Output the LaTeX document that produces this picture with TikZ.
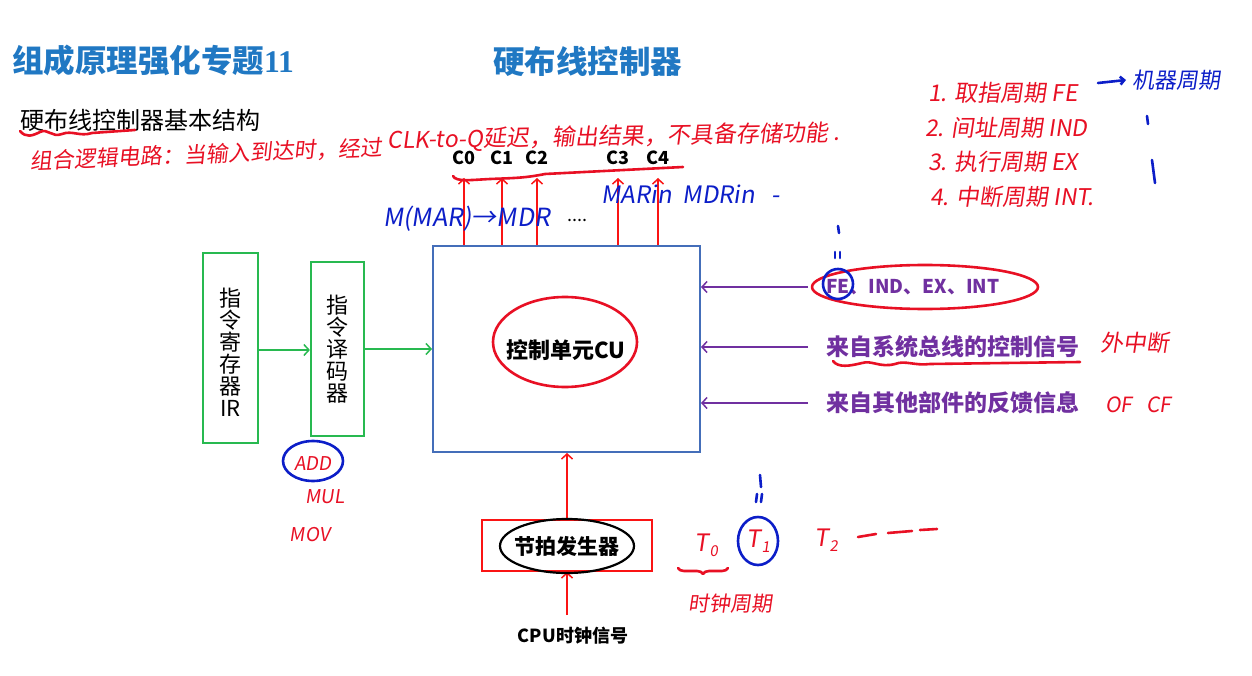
\documentclass[tikz,border=0pt]{standalone}
\usepackage{fontspec}
\setmainfont{Noto Sans CJK SC}
\newfontfamily\hand[FakeSlant=0.15]{Noto Sans CJK SC}
\newfontfamily\serifnum{Liberation Serif}
\usetikzlibrary{arrows.meta,decorations.pathmorphing,decorations.pathreplacing}

\definecolor{titleblue}{RGB}{32,120,195}
\definecolor{boxgreen}{RGB}{40,185,80}
\definecolor{cublue}{RGB}{68,110,185}
\definecolor{sigpurple}{RGB}{112,48,160}
\definecolor{wirered}{RGB}{250,20,20}
\definecolor{penred}{RGB}{232,16,36}
\definecolor{penblue}{RGB}{12,30,200}

\newcommand{\fs}[1]{\fontsize{#1}{#1}\selectfont}
\newcommand{\Tsub}[1]{T\kern1pt\raisebox{-5pt}{\fs{15}#1}}

\tikzset{
  greenbox/.style={draw=boxgreen, line width=2.2pt, inner sep=0pt},
  cubox/.style={draw=cublue, line width=2pt, inner sep=0pt},
  tickbox/.style={draw=wirered, line width=2pt, inner sep=0pt},
  garrow/.style={draw=boxgreen, line width=1.5pt, -{Straight Barb[length=5pt,width=11pt,line width=1.5pt]}},
  rarrow/.style={draw=wirered, line width=1.5pt, -{Straight Barb[length=5pt,width=11pt,line width=1.5pt]}},
  parrow/.style={draw=sigpurple, line width=1.5pt, -{Straight Barb[length=5pt,width=11pt,line width=1.5pt]}},
  redpen/.style={draw=penred, line width=2.6pt, line cap=round, line join=round},
  bluepen/.style={draw=penblue, line width=2.6pt, line cap=round, line join=round},
  redhand/.style={text=penred, font=\hand\fs{21}, inner sep=0pt},
  bluehand/.style={text=penblue, font=\hand\fs{21}, inner sep=0pt},
  clabel/.style={font=\bfseries\fs{18}, inner sep=0pt},
  siglabel/.style={text=sigpurple, font=\bfseries\fs{23}, anchor=west, inner sep=0pt},
}

\begin{document}
\begin{tikzpicture}[x=1pt,y=-1pt]
\useasboundingbox[fill=white] (0,0) rectangle (1252,676);

% ---- headings ----
\node[anchor=west, text=titleblue, font=\bfseries\fs{31.5}, inner sep=0pt] (t1) at (12,61) {组成原理强化专题\serifnum\bfseries 11};
\node[anchor=west, text=titleblue, font=\bfseries\fs{31.5}, inner sep=0pt] (t2) at (493,61) {硬布线控制器};
\node[anchor=west, font=\fs{24}, inner sep=0pt] (sub) at (20,120) {硬布线控制器基本结构};

% ---- main blocks ----
\node[greenbox, minimum width=55, minimum height=190] (ir) at (230.5,348) {};
\node[font=\fs{22}, align=center, inner sep=0pt] at (230.5,352)
  {\baselineskip=28pt 指\\令\\寄\\存\\器\\IR};
\node[greenbox, minimum width=53, minimum height=174] (dec) at (337.5,349) {};
\node[font=\fs{22}, align=center, inner sep=0pt] at (337.5,349)
  {\baselineskip=28pt 指\\令\\译\\码\\器};

\node[cubox, minimum width=267, minimum height=206] (cu) at (566.5,349) {};
\node[font=\bfseries\fs{22}, inner sep=0pt] (cutext) at (566,350) {控制单元CU};

\node[tickbox, minimum width=170, minimum height=51] (tick) at (567,545.5) {};
\node[font=\bfseries\fs{21}, inner sep=0pt] (ticktext) at (567,546) {节拍发生器};
\node[font=\bfseries\fs{18}, inner sep=0pt] (clk) at (573,636) {CPU时钟信号};
\coordinate (clkin) at (567,615);

% ---- control signal outputs ----
\node[clabel] (c0) at (464,158) {C0};
\node[clabel] (c1) at (502,158) {C1};
\node[clabel] (c2) at (537,158) {C2};
\node[clabel] (c3) at (618,158) {C3};
\node[clabel] (c4) at (658,158) {C4};
\foreach \c in {c0,c1,c2,c3,c4}{
  \coordinate (\c tip) at (\c |- 0,178);
  \draw[rarrow] (cu.north -| \c) -- (\c tip);
}

% ---- data path ----
\draw[garrow] (ir.east |- 0,350) -- (dec.west |- 0,350);
\draw[garrow] (dec.east |- 0,349) -- (cu.west |- 0,349);
\draw[rarrow] (tick.north) -- (tick.north |- cu.south);
\draw[rarrow] (clkin) -- (tick.south);

% ---- external inputs ----
\node[siglabel, font=\bfseries\fs{19}] (s1) at (826,287) {FE、IND、EX、INT};
\node[siglabel] (s2) at (826,347) {来自系统总线的控制信号};
\node[siglabel] (s3) at (826,403) {来自其他部件的反馈信息};
\foreach \s in {s1,s2,s3}{
  \draw[parrow] ([xshift=-18pt]\s.west) -- (cu.east |- \s.west);
}

% ---- pen notes ----
\draw[redpen] (20,131) .. controls (26,138) and (32,136) .. (40,132)
  .. controls (48,128) and (52,138) .. (62,134)
  .. controls (72,130) and (80,137) .. (92,133) -- (135,130);
\node[redhand, font=\hand\fs{22}, rotate=2.2, anchor=west] (n1a) at (30,161)
  {组合逻辑电路：当输入到达时，经过};
\node[redhand, font=\hand\fs{23}, rotate=1, anchor=west] (n1b) at (387,141)
  {CLK-to-Q延迟，输出结果，不具备存储功能 .};

\draw[redpen] (453,176) .. controls (456,182) and (470,180) .. (490,179)
  .. controls (515,178) and (525,178) .. (545,174) -- (683,167);

\node[bluehand, anchor=west, font=\hand\fs{25}] (n2) at (383,219) {M(MAR)→MDR};
\node[inner sep=0pt, font=\fs{18}] (dots) at (577,220) {....};
\node[bluehand, anchor=west, font=\hand\fs{24}] (n3) at (601,194) {MARin\ \ MDRin\ \ \ -};

\draw[redpen] (565,342) ellipse [x radius=72, y radius=45];
\draw[line width=2.2pt, line cap=round] (567,546) ellipse [x radius=67, y radius=27];

\draw[redpen] (925,287) ellipse [x radius=113, y radius=22];
\draw[bluepen] (838,284) circle [radius=15];
\draw[bluepen] (838,226) -- (839,233);
\draw[bluepen] (835,252) -- (835,258);
\draw[bluepen] (840,252) -- (840,258);

\draw[redpen] (833,361) .. controls (838,368) and (850,366) .. (862,363)
  .. controls (872,360) and (880,368) .. (895,364)
  .. controls (905,360) and (915,366) .. (930,364) -- (1080,362);
\node[redhand, anchor=west, font=\hand\fs{23}] (n4) at (1100,343) {外中断};
\node[redhand, anchor=west] (n5) at (1105,405) {OF\ \ \ CF};

\node[redhand, anchor=west, font=\hand\fs{23}] (l1) at (928,93) {1. 取指周期 FE};
\node[redhand, anchor=west, font=\hand\fs{23}] (l2) at (925,128) {2. 间址周期 IND};
\node[redhand, anchor=west, font=\hand\fs{23}] (l3) at (928,162) {3. 执行周期 EX};
\node[redhand, anchor=west, font=\hand\fs{23}] (l4) at (930,197) {4. 中断周期 INT.};
\node[bluehand, anchor=west, font=\hand\fs{22}] (mc) at (1132,80) {机器周期};
\draw[bluepen, -{Straight Barb[length=4pt,width=8pt]}] (1098,83) -- ([xshift=-6pt]mc.west);
\draw[bluepen] (1147,116) -- (1148,124);
\draw[bluepen] (1152,160) -- (1155,183);

\node[redhand, font=\hand\fs{19}] (add) at (313,464) {ADD};
\draw[bluepen] (313,461) ellipse [x radius=30, y radius=20];
\node[redhand, font=\hand\fs{19}] (mul) at (325,497) {MUL};
\node[redhand, font=\hand\fs{19}] (mov) at (310,535) {MOV};

\node[redhand, font=\hand\fs{24}] (T0) at (706,545) {\Tsub{0}};
\node[redhand, font=\hand\fs{24}] (T1) at (758,541) {\Tsub{1}};
\draw[bluepen] (758,541) ellipse [x radius=20, y radius=24];
\draw[bluepen] (760,475) -- (761,487);
\draw[bluepen] (757,494) -- (756,502);
\draw[bluepen] (762,494) -- (761,502);
\node[redhand, font=\hand\fs{24}] (T2) at (826,540) {\Tsub{2}};
\draw[redpen] (858,537) -- (876,534);
\draw[redpen] (888,533) -- (912,531);
\draw[redpen] (920,530) -- (937,529);
\draw[redpen, decorate, decoration={brace, amplitude=6pt, mirror}] (678,568) -- (728,568);
\node[redhand, font=\hand\fs{21}] (tc) at (730,604) {时钟周期};
\end{tikzpicture}
\end{document}
